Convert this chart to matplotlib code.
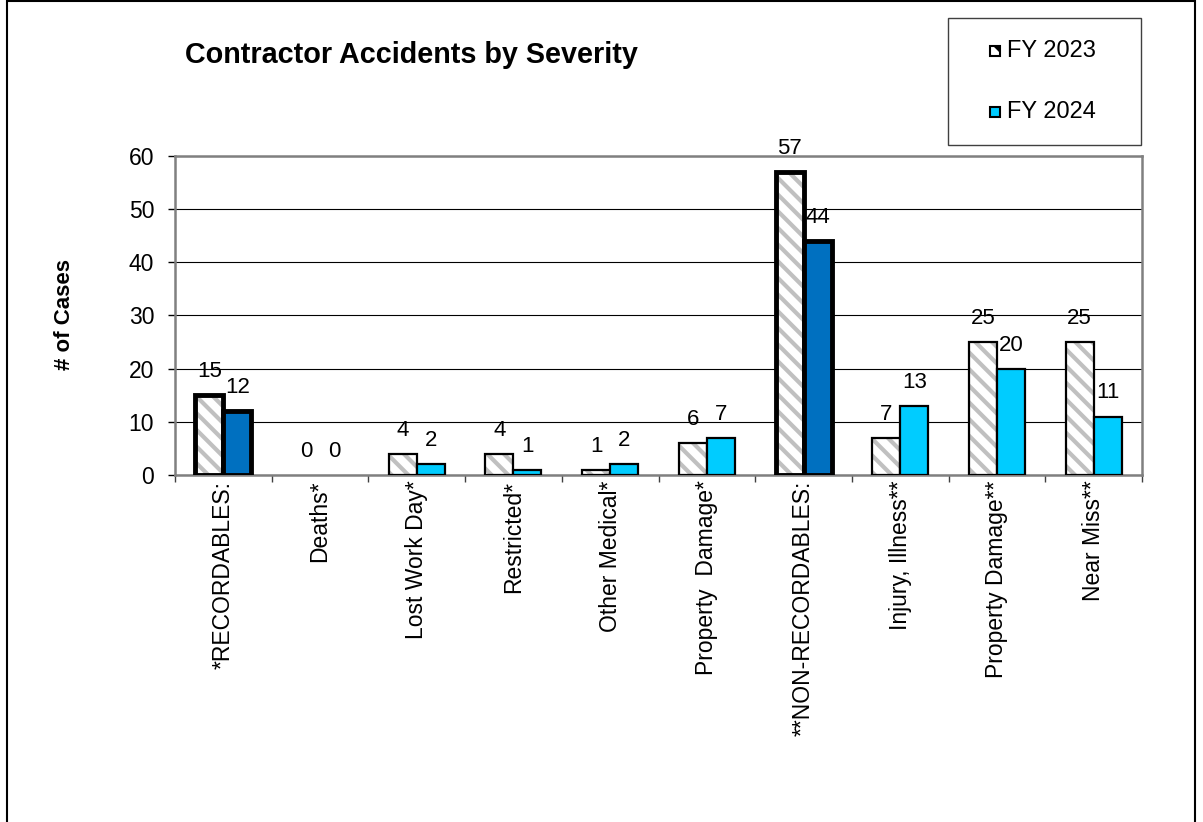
#!/usr/bin/env python3
from matplotlib import pyplot as plt
from matplotlib.patches import Rectangle
import numpy as np

categories = ["*RECORDABLES:", "Deaths*", "Lost Work Day*", "Restricted*",
              "Other Medical*", "Property  Damage*", "**NON-RECORDABLES:",
              "Injury, Illness**", "Property Damage**", "Near Miss**"]
fy2023 = [15, 0, 4, 4, 1, 6, 57, 7, 25, 25]
fy2024 = [12, 0, 2, 1, 2, 7, 44, 13, 20, 11]
summary = [True, False, False, False, False, False, True, False, False, False]
yticks = [0, 10, 20, 30, 40, 50, 60]

W, H = 1203, 822
HATCH_GRAY = "#C0C0C0"
DARK_BLUE = "#0070C0"
CYAN = "#00CCFF"
HATCH = "\\\\"


def fx(px):
    return px / W


def fy(py):
    return 1 - py / H


def main():
    plt.rcParams["font.family"] = ["Liberation Sans", "DejaVu Sans"]
    plt.rcParams["hatch.linewidth"] = 3.0
    plt.rcParams["hatch.color"] = HATCH_GRAY

    fig = plt.figure(figsize=(W / 100, H / 100), dpi=100)
    ax = fig.add_axes([fx(175), fy(475), fx(1142) - fx(175), fy(156) - fy(475)])

    x = np.arange(len(categories))
    bw = 0.29
    lw_2023 = [3.5 if s else (0 if v == 0 else 1.6) for s, v in zip(summary, fy2023)]
    lw_2024 = [3.5 if s else (0 if v == 0 else 1.6) for s, v in zip(summary, fy2024)]
    col_2024 = [DARK_BLUE if s else CYAN for s in summary]

    # FY 2023: hatched fill, then black outline on top
    ax.bar(x - bw / 2, fy2023, bw, color="white", edgecolor=HATCH_GRAY,
           hatch=HATCH, linewidth=0, zorder=3)
    ax.bar(x - bw / 2, fy2023, bw, fill=False, edgecolor="black",
           linewidth=lw_2023, zorder=4)
    ax.bar(x + bw / 2, fy2024, bw, color=col_2024, edgecolor="black",
           linewidth=lw_2024, zorder=4)

    for xi, v in zip(x - bw / 2, fy2023):
        ax.annotate(str(v), (xi, v), xytext=(0, 13), textcoords="offset points",
                    ha="center", va="baseline", fontsize=16, annotation_clip=False)
    for xi, v in zip(x + bw / 2, fy2024):
        ax.annotate(str(v), (xi, v), xytext=(0, 13), textcoords="offset points",
                    ha="center", va="baseline", fontsize=16, annotation_clip=False)

    ax.set_xlim(-0.5, len(categories) - 0.5)
    ax.set_ylim(0, 60)
    ax.set_yticks(yticks)
    ax.tick_params(axis="y", labelsize=16.5, length=5, width=1, pad=10)
    ax.set_xticks(x)
    ax.set_xticklabels(categories, rotation=90, fontsize=16.5, va="top")
    ax.set_xticks(np.arange(-0.5, len(categories), 1), minor=True)
    ax.tick_params(axis="x", which="major", length=0, pad=4)
    ax.tick_params(axis="x", which="minor", length=5, width=1, color="#404040")
    ax.yaxis.grid(True, color="black", linewidth=0.8, zorder=1)
    ax.set_axisbelow(True)
    for side in ["top", "right", "bottom", "left"]:
        ax.spines[side].set_color("#808080")
        ax.spines[side].set_linewidth(1.8)

    fig.text(fx(185), fy(55), "Contractor Accidents by Severity", fontsize=20.7,
             fontweight="bold", ha="left", va="center")
    fig.text(fx(65), fy(315), "# of Cases", fontsize=16, fontweight="bold",
             rotation=90, ha="center", va="center")

    # legend box
    fig.add_artist(Rectangle((fx(948), fy(145)), fx(1141) - fx(948), fy(18) - fy(145),
                             transform=fig.transFigure, fill=False,
                             edgecolor="#404040", linewidth=1))
    for cy, label, face in [(51, "FY 2023", "white"), (112, "FY 2024", CYAN)]:
        sq = Rectangle((fx(990), fy(cy + 5)), fx(10), 10 / H, transform=fig.transFigure,
                       facecolor=face, edgecolor="black", linewidth=1.5,
                       hatch=HATCH if face == "white" else None)
        fig.add_artist(sq)
        fig.text(fx(1007), fy(cy), label, fontsize=17, ha="left", va="center")

    # outer frame
    fig.add_artist(Rectangle((fx(7), -0.1), fx(1195) - fx(7), 1.1 - 1 / H,
                             transform=fig.transFigure, fill=False,
                             edgecolor="black", linewidth=1.5))

    fig.savefig("out.png", dpi=100)


if __name__ == "__main__":
    main()
